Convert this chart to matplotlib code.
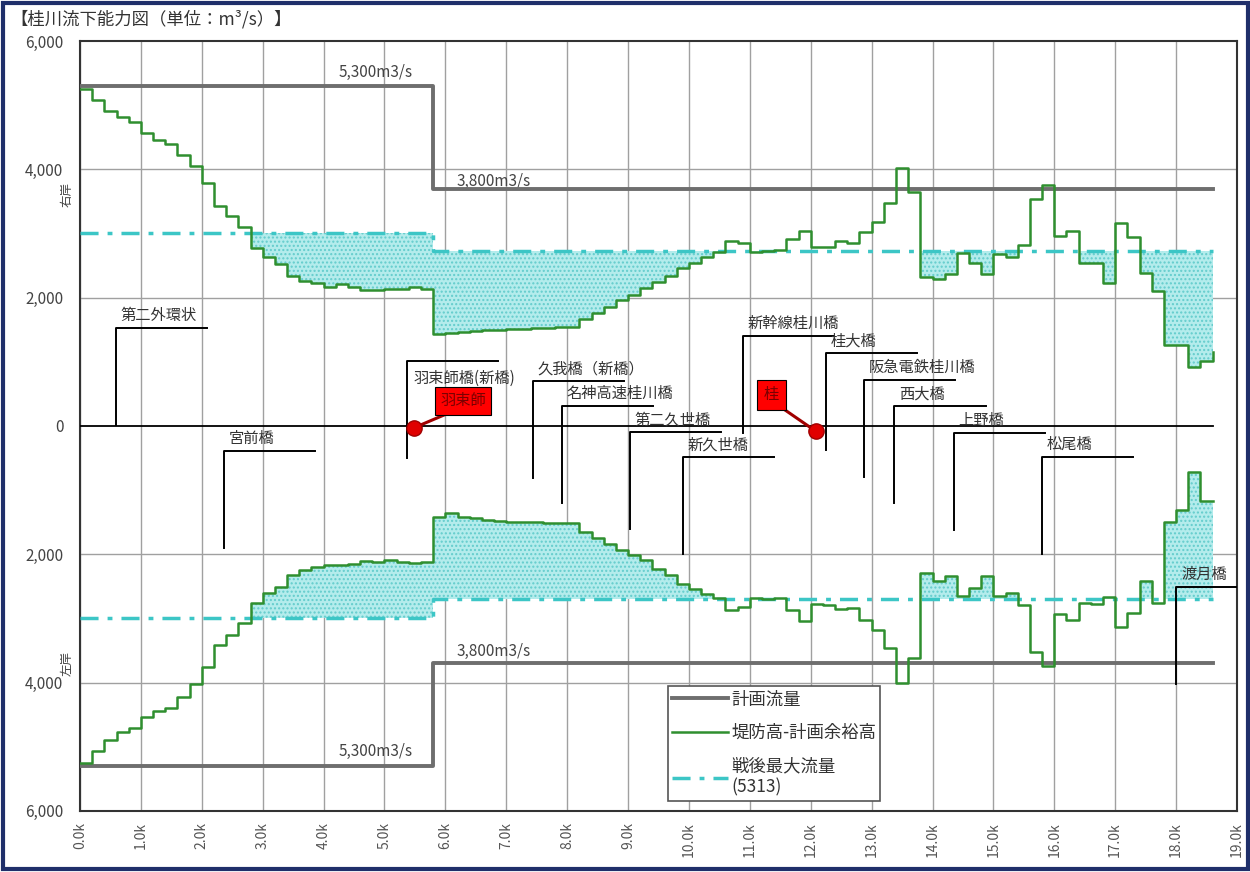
import numpy as np
import matplotlib.pyplot as plt
from matplotlib.lines import Line2D
from matplotlib.patches import Rectangle

plt.rcParams['font.family'] = ['Noto Sans CJK JP', 'DejaVu Sans']
plt.rcParams['hatch.linewidth'] = 1.0

# distance markers (km), one value per 0.2k section, last one closes the step
km = np.round(np.arange(0, 18.61, 0.2), 1)

# right bank (右岸) flow capacity, m3/s
right_bank = [5250, 5080, 4910, 4810, 4730, 4570, 4460, 4390, 4230, 4050,
              3780, 3430, 3270, 3100, 2770, 2640, 2520, 2330, 2260, 2230,
              2170, 2210, 2170, 2120, 2120, 2130, 2140, 2170, 2130, 1430,
              1450, 1470, 1480, 1490, 1500, 1510, 1515, 1520, 1530, 1535,
              1540, 1660, 1765, 1860, 1960, 2040, 2145, 2250, 2340, 2460,
              2545, 2630, 2715, 2885, 2855, 2715, 2720, 2740, 2910, 3045,
              2795, 2795, 2885, 2855, 3020, 3185, 3480, 4015, 3650, 2325,
              2285, 2370, 2690, 2545, 2370, 2680, 2640, 2820, 3545, 3755,
              2960, 3045, 2545, 2545, 2235, 3165, 2945, 2390, 2110, 1260,
              1260, 925, 1015, 1150]

# left bank (左岸) flow capacity, m3/s
left_bank = [5245, 5060, 4890, 4775, 4700, 4530, 4435, 4400, 4220, 4025,
             3750, 3420, 3255, 3075, 2755, 2605, 2505, 2320, 2245, 2200,
             2165, 2165, 2150, 2100, 2115, 2090, 2115, 2140, 2115, 1415,
             1350, 1415, 1440, 1460, 1475, 1490, 1500, 1490, 1510, 1515,
             1515, 1645, 1750, 1840, 1930, 2010, 2090, 2235, 2320, 2460,
             2545, 2615, 2685, 2865, 2825, 2685, 2700, 2685, 2875, 3035,
             2775, 2790, 2855, 2840, 3020, 3180, 3465, 4010, 3620, 2285,
             2410, 2335, 2650, 2530, 2335, 2650, 2605, 2790, 3515, 3740,
             2930, 3020, 2765, 2775, 2670, 3135, 2910, 2410, 2755, 1490,
             1310, 710, 1165, 1165]

# planned flow (計画流量)
plan_km = [0.0, 5.8, 18.6]
plan_flow = [5300, 3700, 3700]
plan_text = ['5,300m3/s', '3,800m3/s']

# post-war maximum flow (戦後最大流量)
postwar_km = [0.0, 5.8, 18.6]
postwar_right = [3000, 2730, 2730]
postwar_left = [2990, 2700, 2700]

# bridges
bridge_names = ['第二外環状', '宮前橋', '羽束師橋(新橋)', '久我橋（新橋）', '名神高速桂川橋',
                '第二久世橋', '新久世橋', '新幹線桂川橋', '桂大橋', '阪急電鉄桂川橋',
                '西大橋', '上野橋', '松尾橋', '渡月橋']
bridge_km = [0.59, 2.36, 5.37, 7.44, 7.91, 9.03, 9.90, 10.89, 12.25, 12.87,
             13.37, 14.35, 15.80, 18.00]
callout_y = [1527, -390, 1013, 701, 312, -93, -483, 1402, 1137, 717,
             312, -109, -483, -2508]

# gauging stations
station_names = ['羽束師', '桂']
station_km = [5.48, 12.08]

x_ticks = np.arange(0, 20, 1)
y_ticks = [-6000, -4000, -2000, 0, 2000, 4000, 6000]


def level_at(x, steps_x, steps_y):
    idx = np.searchsorted(steps_x, x, side='right') - 1
    idx = np.clip(idx, 0, len(steps_y) - 1)
    return np.asarray(steps_y, dtype=float)[idx]


fig = plt.figure(figsize=(12.5, 8.72), dpi=100)
ax = fig.add_axes([0.064, 0.07, 0.9256, 0.883])

# frame of the screenshot
fig.patches.append(Rectangle((0.002, 0.003), 0.996, 0.994, transform=fig.transFigure,
                             fill=False, edgecolor='#1f2f6a', linewidth=3))

rb = np.array(right_bank, dtype=float)
lb = np.array(left_bank, dtype=float)
dr = level_at(km, postwar_km, postwar_right)
dl = level_at(km, postwar_km, postwar_left)

# shortage areas
ax.fill_between(km, np.minimum(rb, dr), dr, step='post', facecolor='#b4ecec',
                edgecolor='#63cccc', hatch='....', linewidth=0, zorder=2)
ax.fill_between(km, -np.minimum(lb, dl), -dl, step='post', facecolor='#b4ecec',
                edgecolor='#63cccc', hatch='....', linewidth=0, zorder=2)

# grid
ax.set_xticks(x_ticks)
ax.grid(axis='x', color='#a0a0a0', linewidth=1)
for v in y_ticks[1:-1]:
    if v != 0:
        ax.axhline(v, color='#a0a0a0', linewidth=1, zorder=1)
ax.plot([0, plan_km[-1]], [0, 0], color='black', linewidth=1.3, zorder=3)

# planned flow
ax.plot(plan_km, plan_flow, drawstyle='steps-post', color='#6e6e6e', linewidth=2.8, zorder=4)
ax.plot(plan_km, [-v for v in plan_flow], drawstyle='steps-post', color='#6e6e6e',
        linewidth=2.8, zorder=4)
ax.text(4.24, 5515, plan_text[0], fontsize=11, color='#444', va='center')
ax.text(6.19, 3817, plan_text[1], fontsize=11, color='#444', va='center')
ax.text(6.19, -3521, plan_text[1], fontsize=11, color='#444', va='center')
ax.text(4.24, -5079, plan_text[0], fontsize=11, color='#444', va='center')

# post-war max flow
dash = (5.2, 2.6, 1.4, 2.6)
ax.plot(postwar_km, postwar_right, drawstyle='steps-post', color='#3cc6c6',
        linewidth=2.5, dashes=dash, zorder=4)
ax.plot(postwar_km, [-v for v in postwar_left], drawstyle='steps-post', color='#3cc6c6',
        linewidth=2.5, dashes=dash, zorder=4)

# capacity lines
ax.plot(km, rb, drawstyle='steps-post', color='#2f8f2f', linewidth=1.8, zorder=5)
ax.plot(km, -lb, drawstyle='steps-post', color='#2f8f2f', linewidth=1.8, zorder=5)

# bridge callouts
for name, bx, by in zip(bridge_names, bridge_km, callout_y):
    ax.plot([bx, bx, bx + 1.5], [by - 1510, by, by], color='black', linewidth=1.4, zorder=6)
    if name == '羽束師橋(新橋)':
        ax.text(bx + 0.1, by - 270, name, fontsize=11, color='#333', va='center', zorder=7)
    else:
        ax.text(bx + 0.08, by + 60, name, fontsize=11, color='#333', va='bottom', zorder=7)

# gauging stations
ax.plot([station_km[0], 6.05], [-30, 200], color='#a00000', linewidth=2.2, zorder=7)
ax.plot([station_km[1], 11.5], [-80, 300], color='#a00000', linewidth=2.2, zorder=7)
ax.plot(station_km, [-30, -80], 'o', markersize=11, color='#e00000',
        markeredgecolor='#a00000', zorder=8)
ax.text(6.29, 390, station_names[0], fontsize=11, color='#7a0000', ha='center', va='center',
        zorder=8, bbox=dict(boxstyle='square,pad=0.35', facecolor='#ff0000',
                            edgecolor='black', linewidth=0.8))
ax.text(11.35, 483, station_names[1], fontsize=11, color='#7a0000', ha='center', va='center',
        zorder=8, bbox=dict(boxstyle='square,pad=0.45', facecolor='#ff0000',
                            edgecolor='black', linewidth=0.8))

# axes
ax.set_xlim(0, 19)
ax.set_ylim(-6000, 6000)
ax.set_xticklabels([f'{v:.1f}k' for v in x_ticks], rotation=90, fontsize=10, color='#555')
ax.set_yticks(y_ticks)
ax.set_yticklabels([f'{abs(v):,}' for v in y_ticks], fontsize=11, color='#444')
ax.tick_params(axis='both', length=0)
ax.tick_params(axis='y', pad=12)
ax.tick_params(axis='x', pad=8)
for s in ax.spines.values():
    s.set_color('#333')
    s.set_linewidth(1.5)

ax.text(-0.011, 0.800, '右岸', transform=ax.transAxes, rotation=90, fontsize=9,
        color='#444', ha='center', va='center')
ax.text(-0.011, 0.192, '左岸', transform=ax.transAxes, rotation=90, fontsize=9,
        color='#444', ha='center', va='center')

fig.text(0.008, 0.978, '【桂川流下能力図（単位：m³/s）】', fontsize=12.5, color='#333', va='center')

# legend
handles = [Line2D([], [], color='#6e6e6e', linewidth=2.8),
           Line2D([], [], color='#2f8f2f', linewidth=1.8),
           Line2D([], [], color='#3cc6c6', linewidth=2.5, dashes=dash)]
leg = ax.legend(handles, ['計画流量', '堤防高-計画余裕高', '戦後最大流量\n(5313)'],
                loc='upper left', bbox_to_anchor=(0.508, 0.162), borderaxespad=0,
                fancybox=False, edgecolor='#555', fontsize=12.5, handlelength=3.2,
                labelspacing=0.9, handletextpad=0.2, borderpad=0.25, framealpha=1)
leg.get_frame().set_linewidth(1.2)
for t in leg.get_texts():
    t.set_color('#333')

fig.savefig('out.png', dpi=100)
